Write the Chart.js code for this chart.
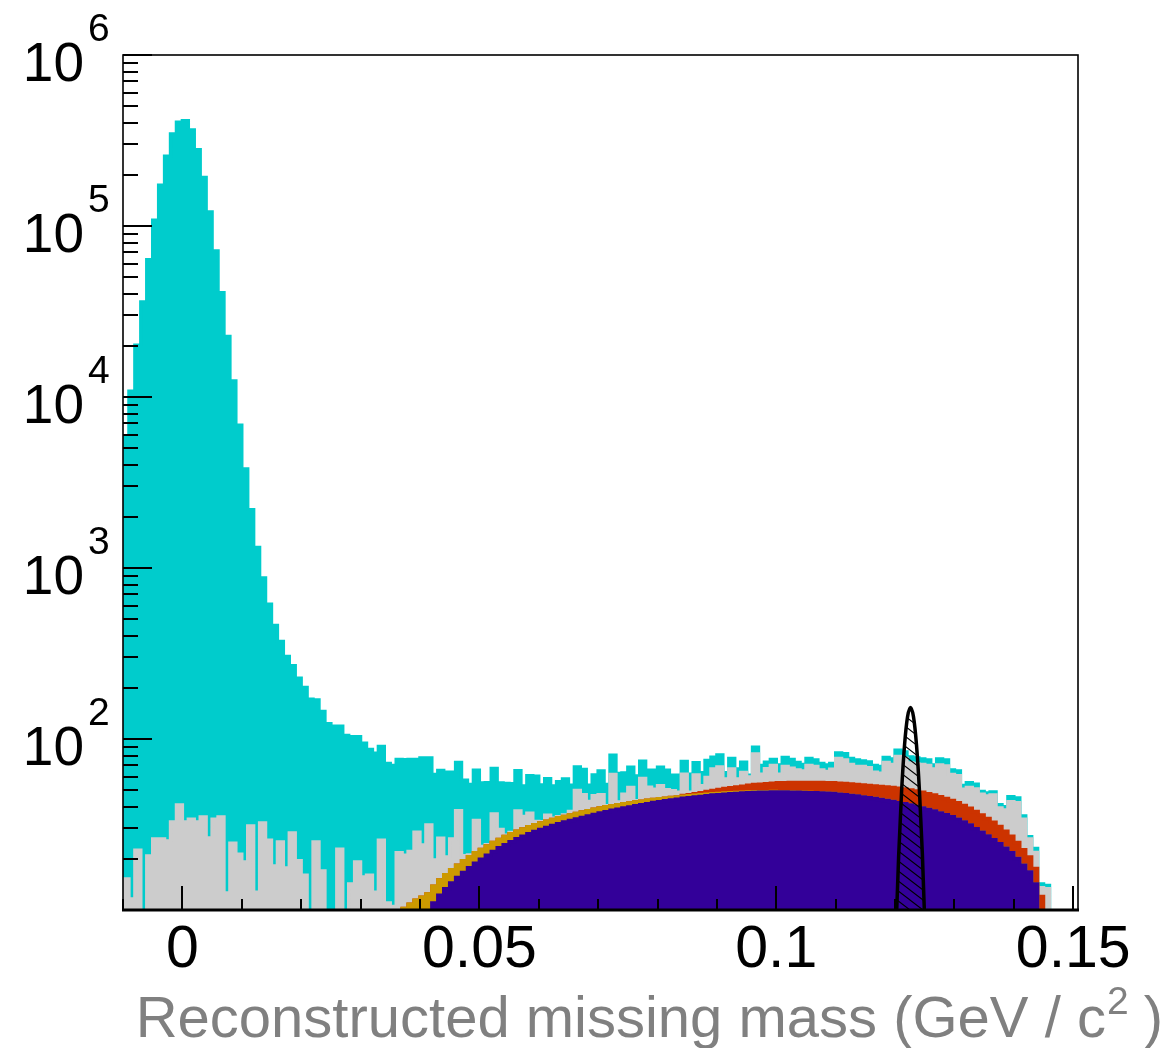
<!DOCTYPE html>
<html>
<head>
<meta charset="utf-8">
<script src="https://cdn.jsdelivr.net/npm/chart.js@4.4.1/dist/chart.umd.min.js"></script>
<style>
  html, body { margin: 0; padding: 0; background: #ffffff; }
  #box { width: 1171px; height: 1048px; }
</style>
</head>
<body>
<div id="box"><canvas id="missMass" width="1171" height="1048"></canvas></div>
<script>
// 1 MeV bins, first bin starts at -10 MeV
const binLow = -0.010;
const binWidth = 0.001;
const nBins = 161;

// events per bin for each process, listed from its first filled bin (low edge in GeV)
const cyanFrom = -0.010;
const cyanCounts = [
  5800, 10790, 20080, 35990, 63480, 107970, 172970, 255970, 344970, 403960,
  412970, 363970, 278970, 191960, 120970, 71470, 40670, 22590, 12380, 6830,
  3770, 2160, 1307, 843, 588, 444, 347, 286, 240, 207,
  184, 165, 144, 128, 117, 112, 96, 99, 89, 84,
  79, 71, 70, 65, 61, 59.5, 54.4, 54.9, 54, 47.5,
  53.5, 46.1, 42.4, 39.2, 43.6, 38, 34.9, 36.7, 33.3, 32.4,
  31.9, 31.5, 30.9, 25.8, 27.5, 26.4, 27.2, 17.8, 24.3, 27.6,
  21, 22.6, 18.7, 21.2, 22.3, 15.9, 18.5, 19.1, 10.4, 15,
  17.9, 13.5, 18.2, 20, 15.9, 16.3, 17.4, 15.4, 13.4, 14.7,
  15.2, 15.1, 11.7, 12.6, 11.7, 13.5, 11, 10.2, 15.3, 11.5,
  12, 5.2, 10.3, 8.4, 9.4, 1.5, 8, 7.7, 6, 6,
  8.2, 9, 8.5, 7, 6, 7, 6.5, 6, 6, 5.5,
  6, 6.5, 6, 6.5, 5.5, 5.5, 6, 6, 5, 5.5,
  7, 7, 6, 6, 5.5, 5.5, 3.8, 6, 6, 4,
  4, 2.6, 3.5, 3.5, 1.8, 1.8, 2, 1.8, 1.7, 3,
  2.8, 1.5, 0.8, 1.2, 0.7, 0.6
];

const greyFrom = -0.010;
const greyCounts = [
  15.2, 11.6, 22.4, 8, 20.7, 26, 26, 25.3, 32.7, 41.1,
  32.7, 34, 32.7, 35, 26.4, 34, 35, 12.6, 24.6, 21.2,
  19.1, 31, 12.7, 32.3, 25.6, 18.1, 25, 17.6, 28.2, 19.4,
  16, 6, 25, 16.9, 6, 7, 22.7, 6, 14.2, 19.1,
  15.6, 16, 12.7, 25.6, 11, 10.5, 21.6, 10.7, 11.2, 17.1,
  12.1, 19.0, 5.8, 11.3, 4.3, 8.8, 19.8, 1.4, 0.5, 11.8,
  0.9, 0.4, 11.6, 3.7, 0.5, 0.5, 9.1, 5.5, 6.1, 1.4,
  0.5, 2.8, 0.6, 0.5, 0.7, 1.7, 13.4, 9.8, 5.1, 7.8,
  7.7, 0.5, 21.3, 1.6, 5.7, 9.8, 0.7, 15.5, 8.4, 6.6,
  8.6, 5.4, 4.3, 3, 15.6, 1.5, 13.8, 4.7, 10.2, 16.7,
  17.9, 7, 14.8, 5.8, 10.6, 6.4, 27.5, 7.8, 12.2, 14.8,
  6.9, 13.4, 11.9, 10.3, 9.2, 14.3, 13.3, 10.3, 8.9, 11,
  21.8, 20.6, 16.4, 14.7, 15.1, 14.5, 10.8, 10.2, 20.6, 19,
  27.5, 26, 22.1, 21.9, 22.2, 22.1, 19.7, 24.5, 24.6, 18.3,
  18.6, 10, 12.6, 13.3, 11.5, 12.2, 14.4, 8.7, 9.6, 16,
  17.6, 11.5, 5.6, 4.2, 1.5, 5.3
];

const redFrom = 0.084;
const redCounts = [
  0.4, 0.7, 1.0, 1.4, 1.8, 2.2, 2.6, 3.0, 3.4, 3.8,
  4.2, 4.6, 5.0, 5.3, 5.6, 5.9, 6.2, 6.4, 6.6, 6.8,
  7.0, 7.1, 7.2, 7.3, 7.4, 7.5, 7.6, 7.7, 7.8, 7.9,
  8.0, 8.1, 8.3, 8.5, 8.7, 8.9, 9.1, 9.2, 9.3, 9.3,
  9.3, 9.2, 9.1, 9.0, 8.8, 8.6, 8.4, 8.2, 8.0, 7.8,
  7.5, 7.2, 6.8, 6.4, 5.9, 5.4, 4.8, 4.2, 3.7, 3.3,
  12.0, 8.0
];

const goldFrom = 0.037;
const goldCounts = [
  2.8, 2.8, 2.8, 2.8, 2.8, 2.8, 2.8, 2.8, 2.8, 2.8,
  2.8, 2.8, 2.8, 2.8, 2.8, 2.8, 2.8, 2.8, 2.8, 2.8,
  2.8, 2.8, 2.7, 2.7, 2.7, 2.6, 2.6, 2.6, 2.6, 2.6,
  2.6, 2.6, 2.6, 2.6, 2.6, 2.5, 2.4, 2.3, 2.2, 2.1,
  2.0, 1.9, 1.8, 1.7, 1.6, 1.5, 1.4, 1.3, 1.2, 1.1,
  1.0, 0.9, 0.8, 0.75, 0.7, 0.65, 0.6, 0.55, 0.5, 0.45,
  0.4, 0.35, 0.3, 0.25, 0.2, 0.15, 0.1, 0.1, 0.05
];

const purpleFrom = 0.037;
const purpleCounts = [
  7.4, 8.0, 8.6, 9.1, 9.6, 11.0, 12.2, 13.3, 14.4, 15.5,
  16.6, 17.7, 18.8, 19.8, 20.9, 22.0, 23.1, 24.1, 25.1, 26.1,
  27.0, 27.9, 28.8, 29.6, 30.4, 31.2, 32.0, 32.7, 33.4, 34.1,
  34.8, 35.5, 36.2, 36.9, 37.6, 38.3, 38.9, 39.5, 40.1, 40.7,
  41.3, 41.9, 42.5, 43.0, 43.5, 44.0, 44.5, 45.0, 45.4, 45.8,
  46.2, 46.6, 47.0, 47.3, 47.6, 47.9, 48.1, 48.3, 48.5, 48.7,
  48.8, 48.9, 49.0, 49.0, 49.0, 48.9, 48.8, 48.7, 48.6, 48.5,
  48.4, 48.2, 48.0, 47.6, 47.2, 46.8, 46.4, 45.9, 45.4, 44.9,
  44.3, 43.7, 43.1, 42.4, 41.8, 41.1, 40.3, 39.5, 38.7, 37.9,
  37.0, 36.1, 35.1, 34.0, 32.7, 31.4, 29.9, 28.5, 27.1, 25.8,
  24.4, 23.0, 21.6, 20.0, 18.3, 16.7, 14.2
];

// narrow peak drawn on top as a smooth hatched curve
const peakMass = [0.1196, 0.1201, 0.1206, 0.1211, 0.1216, 0.1221, 0.1226, 0.1231, 0.1236, 0.1241, 0.1246, 0.1251, 0.1256];
const peakCounts = [1.7, 6.7, 20.7, 49.7, 92.8, 135, 153, 135, 93, 50, 21, 6.7, 1.7];

const xLabels = ['0', '0.05', '0.1', '0.15'];
const xLabelValues = [0, 0.05, 0.1, 0.15];
const yExponents = [2, 3, 4, 5, 6];

const axisTitle = 'Reconstructed missing mass (GeV / c';
const axisTitleSup = '2';
const axisTitleEnd = ' )';

const FONT = '"Liberation Sans", Arial, Helvetica, sans-serif';

// put a process into the full binning
function fullBins(from, counts) {
  const out = new Array(nBins).fill(0);
  const first = Math.round((from - binLow) / binWidth);
  counts.forEach((c, i) => { out[first + i] = c; });
  return out;
}

const layers = [
  { name: 'purple', color: '#330099', bins: fullBins(purpleFrom, purpleCounts) },
  { name: 'gold', color: '#cc9900', bins: fullBins(goldFrom, goldCounts) },
  { name: 'red', color: '#cc3300', bins: fullBins(redFrom, redCounts) },
  { name: 'grey', color: '#cccccc', bins: fullBins(greyFrom, greyCounts) },
  { name: 'cyan', color: '#00cccc', bins: fullBins(cyanFrom, cyanCounts) }
];

// running sum -> top edge of every layer in the stack
const running = new Array(nBins).fill(0);
layers.forEach(l => {
  l.top = l.bins.map((c, i) => (running[i] += c));
});

// stepped outline: one point per low edge, plus the last high edge
function histPoints(top) {
  const pts = top.map((v, i) => ({ x: binLow + i * binWidth, y: Math.max(v, 1) }));
  pts.push({ x: binLow + nBins * binWidth, y: Math.max(top[nBins - 1], 1) });
  return pts;
}

function hatch() {
  const w = 13, h = 10;
  const c = document.createElement('canvas');
  c.width = w; c.height = h;
  const g = c.getContext('2d');
  g.strokeStyle = '#000000';
  g.lineWidth = 1.1;
  g.beginPath();
  g.moveTo(0, 0); g.lineTo(w, h);
  g.moveTo(-w, 0); g.lineTo(w, 2 * h);
  g.moveTo(0, -h); g.lineTo(2 * w, h);
  g.stroke();
  return g.createPattern(c, 'repeat');
}

const ctx = document.getElementById('missMass').getContext('2d');

const datasets = [{
  label: 'peak',
  data: peakMass.map((m, i) => ({ x: m, y: peakCounts[i] })),
  borderColor: '#000000',
  borderWidth: 3.5,
  backgroundColor: hatch(),
  fill: 'start',
  cubicInterpolationMode: 'monotone',
  pointRadius: 0,
  clip: 0
}];
// lower layers first in the list so they end up painted over the upper ones
layers.forEach(l => {
  datasets.push({
    label: l.name,
    data: histPoints(l.top),
    stepped: true,
    borderColor: l.color,
    backgroundColor: l.color,
    borderWidth: 3.4,
    fill: 'start',
    pointRadius: 0,
    clip: 0
  });
});

// ROOT-like frame: inward ticks, 10^n labels, right-aligned axis title
const frame = {
  id: 'frame',
  afterDatasetsDraw(chart) {
    const { ctx, chartArea: a, scales: { x, y } } = chart;
    ctx.save();
    ctx.strokeStyle = '#000000';

    // x ticks every 10 MeV, long ones every 50 MeV
    ctx.lineWidth = 2;
    ctx.beginPath();
    for (let k = -1; k <= 15; k++) {
      const px = Math.round(x.getPixelForValue(k * 0.01));
      const len = (k % 5 === 0) ? 24 : 11;
      ctx.moveTo(px, a.bottom);
      ctx.lineTo(px, a.bottom - len);
    }
    // y ticks: decades long, 2..9 short
    for (let e = 1; e <= 6; e++) {
      for (let m = 1; m <= 9; m++) {
        const v = m * Math.pow(10, e);
        if (v > 1e6) break;
        const py = Math.round(y.getPixelForValue(v));
        const len = m === 1 ? 29 : 15;
        ctx.moveTo(a.left, py);
        ctx.lineTo(a.left + len, py);
      }
    }
    ctx.stroke();

    ctx.lineWidth = 1.6;
    ctx.strokeRect(a.left, a.top, a.right - a.left, a.bottom - a.top);
    ctx.lineWidth = 3;
    ctx.beginPath();
    ctx.moveTo(a.left - 1, a.bottom);
    ctx.lineTo(a.right + 1, a.bottom);
    ctx.stroke();

    ctx.fillStyle = '#000000';
    ctx.textBaseline = 'alphabetic';
    // y labels
    yExponents.forEach(e => {
      const py = y.getPixelForValue(Math.pow(10, e));
      ctx.font = '55px ' + FONT;
      ctx.textAlign = 'right';
      ctx.fillText('10', 84, py + 26);
      ctx.font = '39px ' + FONT;
      ctx.textAlign = 'left';
      ctx.fillText(String(e), 88, py - 14);
    });
    // x labels
    ctx.font = '59px ' + FONT;
    ctx.textAlign = 'center';
    xLabels.forEach((t, i) => {
      ctx.fillText(t, x.getPixelForValue(xLabelValues[i]), 967);
    });

    // axis title, ends at the right
    ctx.fillStyle = '#808080';
    ctx.textAlign = 'left';
    const big = '58px ' + FONT, small = '39px ' + FONT;
    ctx.font = big;
    const w1 = ctx.measureText(axisTitle).width;
    const w3 = ctx.measureText(axisTitleEnd).width;
    ctx.font = small;
    const w2 = ctx.measureText(axisTitleSup).width;
    let tx = 1163 - (w1 + w2 + w3);
    ctx.font = big;
    ctx.fillText(axisTitle, tx, 1037);
    tx += w1;
    ctx.font = small;
    ctx.fillText(axisTitleSup, tx + 1, 1014);
    tx += w2;
    ctx.font = big;
    ctx.fillText(axisTitleEnd, tx, 1037);
    ctx.restore();
  }
};

new Chart(ctx, {
  type: 'line',
  data: { datasets },
  options: {
    responsive: false,
    animation: false,
    devicePixelRatio: 1,
    layout: { padding: { left: 123, top: 55, right: 93, bottom: 138 } },
    plugins: { legend: { display: false }, tooltip: { enabled: false } },
    scales: {
      x: { type: 'linear', min: -0.010, max: 0.1508, display: false },
      y: { type: 'logarithmic', min: 10, max: 1e6, display: false }
    }
  },
  plugins: [frame]
});
</script>
</body>
</html>
